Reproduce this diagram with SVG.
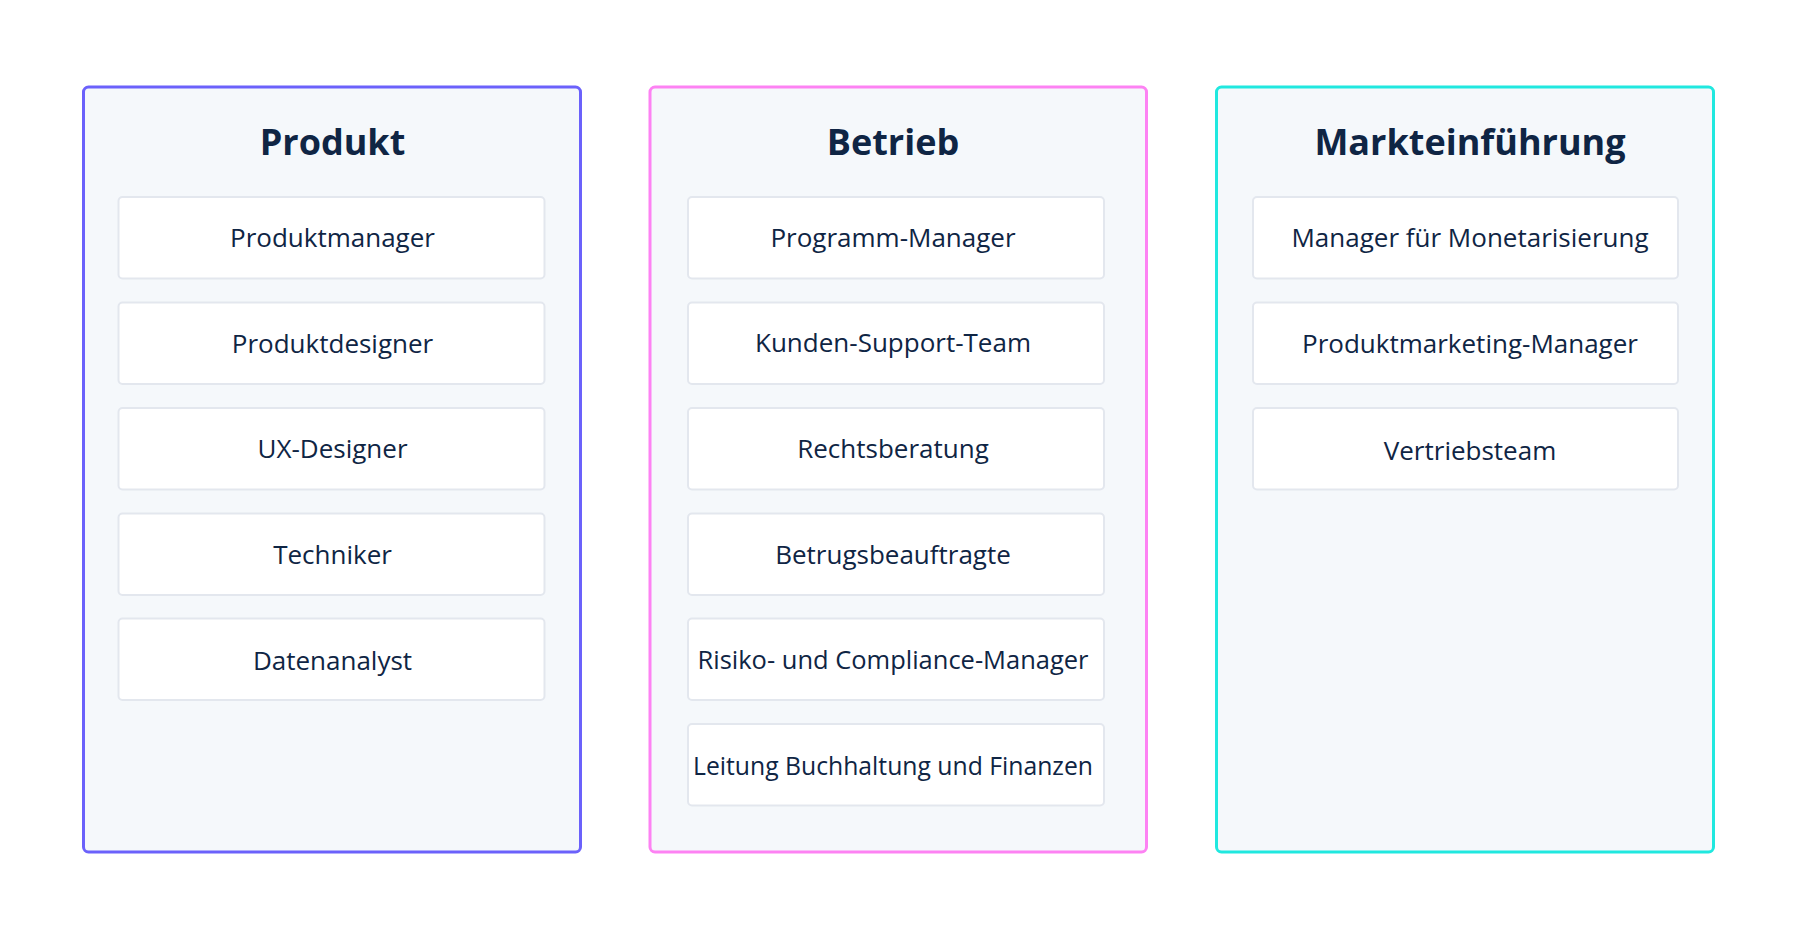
<svg xmlns="http://www.w3.org/2000/svg" width="1800" height="938" viewBox="0 0 1800 938">
<defs>
<style>
.panel{fill:#f5f8fb;stroke-width:3}
.p1{stroke:#6b61fb}
.p2{stroke:#fd82f3}
.p3{stroke:#20e8df}
.box{fill:#ffffff;stroke:#e3e7ee;stroke-width:2}
.title{font-family:"Open Sans","Noto Sans",sans-serif;font-weight:700;font-size:36px;fill:#0f2544;text-anchor:middle}
.lbl{font-family:"Open Sans","Noto Sans",sans-serif;font-size:26px;fill:#0f2544;text-anchor:middle}
</style>
</defs>
<rect width="1800" height="938" fill="#ffffff"/>
<g id="panel-produkt">
<rect class="panel p1" x="83.5" y="87" width="497" height="765" rx="5"/>
<text class="title" x="332.5" y="155">Produkt</text>
<g id="produktmanager"><rect class="box" x="118.5" y="197" width="426" height="81.5" rx="4"/><text class="lbl" x="332.5" y="247">Produktmanager</text></g>
<g id="produktdesigner"><rect class="box" x="118.5" y="302.5" width="426" height="81.5" rx="4"/><text class="lbl" x="332.5" y="352.5">Produktdesigner</text></g>
<g id="ux-designer"><rect class="box" x="118.5" y="408" width="426" height="81.5" rx="4"/><text class="lbl" x="332.5" y="458">UX-Designer</text></g>
<g id="techniker"><rect class="box" x="118.5" y="513.5" width="426" height="81.5" rx="4"/><text class="lbl" x="332.5" y="563.5">Techniker</text></g>
<g id="datenanalyst"><rect class="box" x="118.5" y="618.5" width="426" height="81.5" rx="4"/><text class="lbl" x="332.5" y="669.5">Datenanalyst</text></g>
</g>
<g id="panel-betrieb">
<rect class="panel p2" x="650" y="87" width="496.5" height="765" rx="5"/>
<text class="title" x="893" y="155">Betrieb</text>
<g id="programm-manager"><rect class="box" x="688" y="197" width="416" height="81.5" rx="4"/><text class="lbl" x="893" y="247">Programm-Manager</text></g>
<g id="kunden-support"><rect class="box" x="688" y="302.5" width="416" height="81.5" rx="4"/><text class="lbl" x="893" y="352">Kunden-Support-Team</text></g>
<g id="rechtsberatung"><rect class="box" x="688" y="408" width="416" height="81.5" rx="4"/><text class="lbl" x="893" y="458">Rechtsberatung</text></g>
<g id="betrugsbeauftragte"><rect class="box" x="688" y="513.5" width="416" height="81.5" rx="4"/><text class="lbl" x="893" y="563.5">Betrugsbeauftragte</text></g>
<g id="risiko"><rect class="box" x="688" y="618.5" width="416" height="81.5" rx="4"/><text class="lbl" x="893" y="669" textLength="391" lengthAdjust="spacingAndGlyphs">Risiko- und Compliance-Manager</text></g>
<g id="leitung"><rect class="box" x="688" y="724" width="416" height="81.5" rx="4"/><text class="lbl" x="893" y="775" textLength="400" lengthAdjust="spacingAndGlyphs">Leitung Buchhaltung und Finanzen</text></g>
</g>
<g id="panel-markteinfuehrung">
<rect class="panel p3" x="1216.5" y="87" width="497" height="765" rx="5"/>
<text class="title" x="1470" y="155">Markteinführung</text>
<g id="monetarisierung"><rect class="box" x="1253" y="197" width="425" height="81.5" rx="4"/><text class="lbl" x="1470" y="247">Manager für Monetarisierung</text></g>
<g id="produktmarketing"><rect class="box" x="1253" y="302.5" width="425" height="81.5" rx="4"/><text class="lbl" x="1470" y="353">Produktmarketing-Manager</text></g>
<g id="vertriebsteam"><rect class="box" x="1253" y="408" width="425" height="81.5" rx="4"/><text class="lbl" x="1470" y="460">Vertriebsteam</text></g>
</g>
<g id="connectors"/>
</svg>
